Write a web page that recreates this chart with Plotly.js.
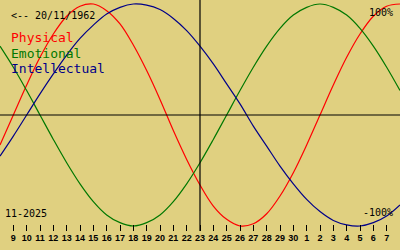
<!DOCTYPE html>
<html><head><meta charset="utf-8">
<script src="https://cdn.plot.ly/plotly-3.0.1.min.js"></script>
<style>html,body{margin:0;padding:0;background:#e0d080;}#c{width:400px;height:250px;}</style>
</head><body><div id="c"></div>
<script>
// Days shown (Nov 8 .. Dec 8), first and last are edge days without tick labels
const dayLabels = ['8','9','10','11','12','13','14','15','16','17','18','19','20','21','22','23','24','25','26','27','28','29','30','1','2','3','4','5','6','7','8'];
const physical = [-0.27,0,0.27,0.52,0.73,0.89,0.98,1.00,0.94,0.82,0.63,0.40,0.14,-0.14,-0.40,-0.63,-0.82,-0.94,-1.00,-0.98,-0.89,-0.73,-0.52,-0.27,0,0.27,0.52,0.73,0.89,0.98,1.00];
const emotional = [0.62,0.43,0.22,0,-0.22,-0.43,-0.62,-0.78,-0.90,-0.97,-1.00,-0.97,-0.90,-0.78,-0.62,-0.43,-0.22,0,0.22,0.43,0.62,0.78,0.90,0.97,1.00,0.97,0.90,0.78,0.62,0.43,0.22];
const intellectual = [-0.37,-0.19,0,0.19,0.37,0.54,0.69,0.81,0.91,0.97,1.00,0.99,0.95,0.87,0.76,0.62,0.46,0.28,0.10,-0.10,-0.28,-0.46,-0.62,-0.76,-0.87,-0.95,-0.99,-1.00,-0.97,-0.91,-0.81];
const seriesNames = ['Physical','Emotional','Intellectual'];
const todayLabel = '23';
const birthText = '<-- 20/11/1962';
const monthText = '11-2025';

const idx = dayLabels.map((_, i) => i);
const tickIdx = idx.slice(1, idx.length - 1);
const tickText = dayLabels.slice(1, dayLabels.length - 1);
const todayIdx = dayLabels.indexOf(todayLabel);

const colors = ['#ff0000', '#007800', '#000088'];
const H = 231;
const P = x => x / 400;
const Q = y => 1 - y / H;
const mono = 'DejaVu Sans Mono';

const traces = [physical, emotional, intellectual].map((v, k) => ({
  x: idx, y: v, type: 'scatter', mode: 'lines', name: seriesNames[k],
  line: {color: colors[k], width: 1.2, shape: 'spline', smoothing: 1},
  hoverinfo: 'skip'
}));

const ann = (text, x, y, color, size, xanchor) => ({
  text: text, xref: 'paper', yref: 'paper', x: P(x), y: Q(y), xanchor: xanchor || 'left', yanchor: 'middle',
  showarrow: false, borderpad: 0, font: {family: mono, size: size, color: color}
});

const layout = {
  width: 400, height: 250,
  margin: {l: 0, r: 0, t: 0, b: 250 - H, pad: 0},
  paper_bgcolor: '#e0d080', plot_bgcolor: '#e0d080',
  showlegend: false,
  xaxis: {range: [0, idx.length - 1], showgrid: false, zeroline: false, showline: false,
    tickmode: 'array', tickvals: tickIdx, ticktext: tickText,
    ticks: 'inside', ticklen: 6, tickwidth: 1, tickcolor: '#000',
    ticklabelstandoff: 0,
    tickfont: {family: 'Liberation Sans', size: 9, color: '#000', weight: 'bold'}},
  yaxis: {range: [-116 / 111, 115 / 111], showgrid: false, zeroline: false, showline: false, showticklabels: false, ticks: ''},
  shapes: [
    {type: 'line', xref: 'paper', yref: 'y', x0: 0, x1: 1, y0: 0, y1: 0, line: {color: '#000', width: 1}},
    {type: 'line', xref: 'x', yref: 'paper', x0: todayIdx, x1: todayIdx, y0: 0, y1: 1, line: {color: '#000', width: 1.2}}
  ],
  annotations: [
    ann(birthText, 10, 16, '#000', 10),
    ann(seriesNames[0], 10, 37.5, colors[0], 13),
    ann(seriesNames[1], 10, 53, colors[1], 13),
    ann(seriesNames[2], 10, 68.5, colors[2], 13),
    ann('100%', 394, 12, '#000', 10, 'right'),
    ann('-100%', 394, 212, '#000', 10, 'right'),
    ann(monthText, 4, 213, '#000', 10)
  ]
};
Plotly.newPlot('c', traces, layout, {staticPlot: true, displayModeBar: false});
</script></body></html>
